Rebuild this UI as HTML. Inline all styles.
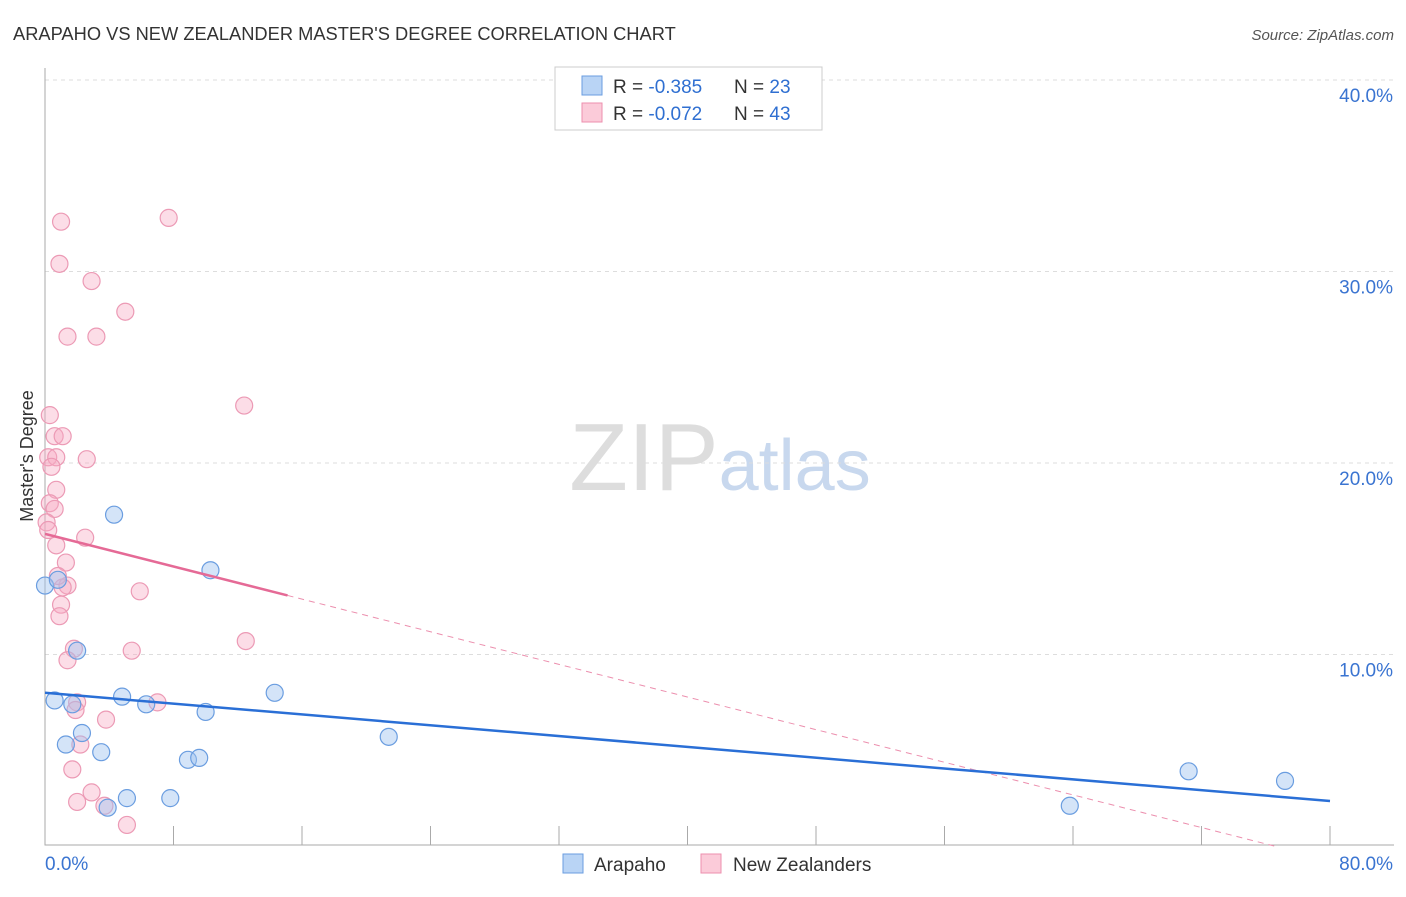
<!DOCTYPE html>
<html><head><meta charset="utf-8"><style>
body{margin:0;background:#fff;font-family:"Liberation Sans",sans-serif;}
svg text{font-family:"Liberation Sans",sans-serif;}
</style></head><body>
<svg id="chart" width="1406" height="892" xmlns="http://www.w3.org/2000/svg">
<text x="13" y="40" font-size="18.3" fill="#333">ARAPAHO VS NEW ZEALANDER MASTER'S DEGREE CORRELATION CHART</text>
<text x="1394" y="40" font-size="15" fill="#555" text-anchor="end" font-style="italic">Source: ZipAtlas.com</text>
<text x="720" y="490" font-size="96" text-anchor="middle" fill="#ddd" font-family="Liberation Serif">ZIP<tspan fill="#c8d8ee" font-family="Liberation Sans" font-size="72">atlas</tspan></text>
<g id="grid"></g>
<g id="axes"></g>
<g id="marks"></g>
<text transform="translate(33,456) rotate(-90)" font-size="18" fill="#333" text-anchor="middle">Master's Degree</text>
<g>
<rect x="555" y="67" width="267" height="63" fill="#fff" stroke="#ccc"/>
<rect x="582" y="76" width="20" height="19" fill="#b9d4f5" stroke="#6a9de0"/>
<rect x="582" y="103" width="20" height="19" fill="#fbcbd9" stroke="#ec8fae"/>
<text x="613" y="93" font-size="19" fill="#333">R = <tspan fill="#2f6fd1">-0.385</tspan></text>
<text x="734" y="93" font-size="19" fill="#333">N = <tspan fill="#2f6fd1">23</tspan></text>
<text x="613" y="120" font-size="19" fill="#333">R = <tspan fill="#2f6fd1">-0.072</tspan></text>
<text x="734" y="120" font-size="19" fill="#333">N = <tspan fill="#2f6fd1">43</tspan></text>
</g>
<g>
<rect x="563" y="854" width="20" height="19" fill="#b9d4f5" stroke="#6a9de0"/>
<text x="594" y="871" font-size="19" fill="#333">Arapaho</text>
<rect x="701" y="854" width="20" height="19" fill="#fbcbd9" stroke="#ec8fae"/>
<text x="733" y="871" font-size="19" fill="#333">New Zealanders</text>
</g>
</svg>
<script>
const yTicks=[10,20,30,40];
const xTickLabels=["0.0%","80.0%"];
const arapahoX=[0,0.8,0.6,1.3,1.7,2.0,2.3,3.5,3.9,4.3,4.8,5.1,6.3,7.8,8.9,9.6,10.0,10.3,14.3,21.4,63.8,71.2,77.2];
const arapahoY=[13.6,13.9,7.6,5.3,7.4,10.2,5.9,4.9,2.0,17.3,7.8,2.5,7.4,2.5,4.5,4.6,7.0,14.4,8.0,5.7,2.1,3.9,3.4];
const nzX=[1.0,7.7,0.9,2.9,5.0,1.4,3.2,12.4,0.3,0.6,1.1,0.2,0.7,2.6,0.4,0.7,0.3,0.6,0.1,0.2,2.5,0.7,1.3,1.4,1.1,5.9,1.0,0.9,1.8,5.4,12.5,1.4,7.0,2.0,1.9,3.8,2.2,1.7,2.0,2.9,3.7,5.1,0.8];
const nzY=[32.6,32.8,30.4,29.5,27.9,26.6,26.6,23.0,22.5,21.4,21.4,20.3,20.3,20.2,19.8,18.6,17.9,17.6,16.9,16.5,16.1,15.7,14.8,13.6,13.5,13.3,12.6,12.0,10.3,10.2,10.7,9.7,7.5,7.5,7.1,6.6,5.3,4.0,2.3,2.8,2.1,1.1,14.1];
const blueTrend=[8.0,2.35];
const pinkTrend=[16.3,-0.213];
const pinkSolidEnd=15.1;
const NS="http://www.w3.org/2000/svg";
const X=v=>45+v/80*1285, Y=v=>846-v*19.15;
function mk(t,a,p){const e=document.createElementNS(NS,t);for(const k in a)e.setAttribute(k,a[k]);document.getElementById(p).appendChild(e);return e;}
yTicks.forEach(t=>{
 const g=mk('line',{x1:45,x2:1394,y1:Y(t),y2:Y(t),stroke:'#ddd','stroke-dasharray':'4,4'},'grid');
 
 
 const l=mk('text',{x:1393,y:Y(t)+22,'font-size':19,fill:'#3a74d1','text-anchor':'end'},'axes');
 l.textContent=t+'.0%';
 
 
});
const ax=mk('path',{d:'M45,68V845H1394',fill:'none',stroke:'#aaa'},'axes');


for(let i=1;i<=10;i++){const t=mk('line',{x1:X(i*8),x2:X(i*8),y1:826,y2:845,stroke:'#aaa'},'axes');
 
 }
xTickLabels.forEach((s,i)=>{const t=mk('text',{x:i?1393:45,y:870,'font-size':19,fill:'#3a74d1','text-anchor':i?'end':'start'},'axes');t.textContent=s;
 
 });
nzX.forEach((x,i)=>{const c=mk('circle',{cx:X(x),cy:Y(nzY[i]),r:8.5,fill:'rgba(247,170,195,0.4)',stroke:'#ec9ab5','stroke-width':1.2},'marks');
 
 });
arapahoX.forEach((x,i)=>{const c=mk('circle',{cx:X(x),cy:Y(arapahoY[i]),r:8.5,fill:'rgba(160,195,240,0.45)',stroke:'#6a9de0','stroke-width':1.2},'marks');
 
 });
const pEnd=-pinkTrend[0]/pinkTrend[1];
const pd=mk('line',{x1:X(pinkSolidEnd),y1:Y(pinkTrend[0]+pinkTrend[1]*pinkSolidEnd),x2:X(pEnd),y2:Y(0),stroke:'#ec8fae','stroke-dasharray':'6,5','stroke-width':1},'marks');


const ps=mk('line',{x1:X(0),y1:Y(pinkTrend[0]),x2:X(pinkSolidEnd),y2:Y(pinkTrend[0]+pinkTrend[1]*pinkSolidEnd),stroke:'#e56a96','stroke-width':2.5},'marks');


const bl=mk('line',{x1:X(0),y1:Y(blueTrend[0]),x2:X(80),y2:Y(blueTrend[1]),stroke:'#2a6fd6','stroke-width':2.5},'marks');


</script>
</body></html>
